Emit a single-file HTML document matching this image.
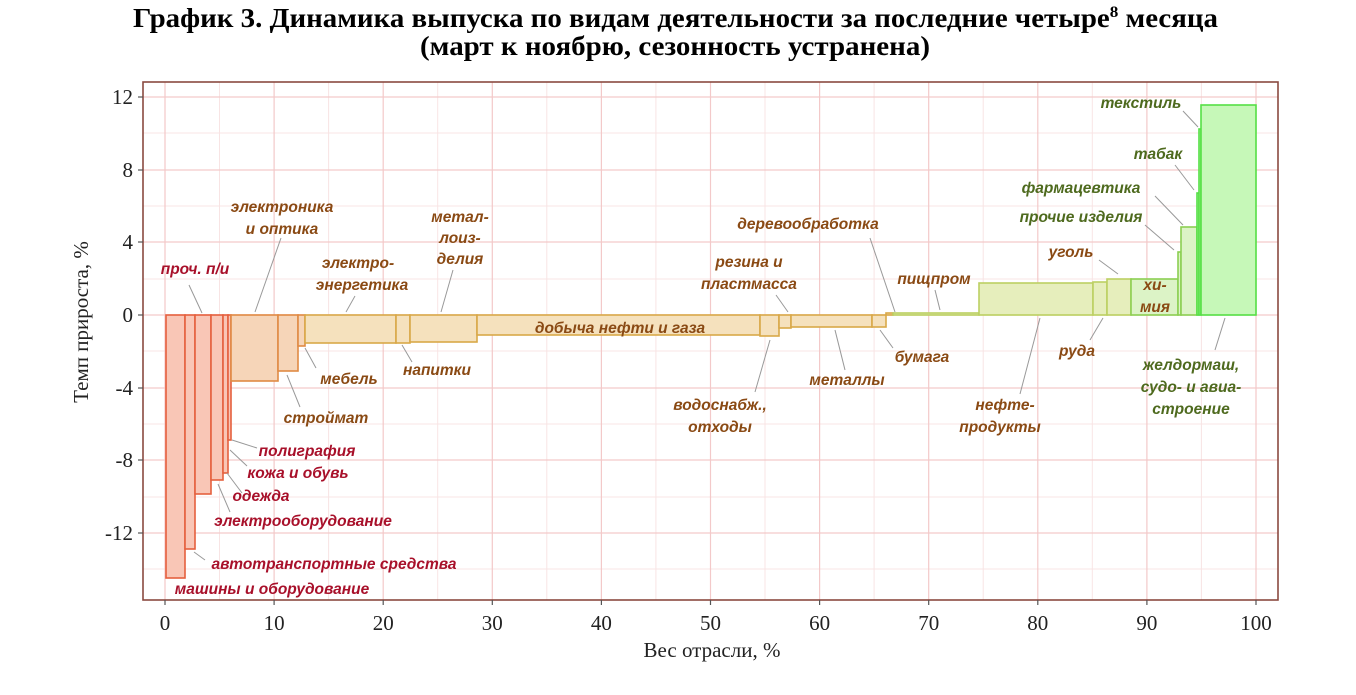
<!DOCTYPE html>
<html><head><meta charset="utf-8"><style>
html,body{margin:0;padding:0;background:#fff;}
svg{display:block;}
.t{font-family:"Liberation Serif",serif;font-weight:bold;font-size:27px;fill:#000;}
.tk{font-family:"Liberation Serif",serif;font-size:21px;fill:#222;}
.l{font-family:"Liberation Sans",sans-serif;font-weight:bold;font-style:italic;font-size:15.5px;text-anchor:middle;}
.r{fill:#a8102a}.b{fill:#8a4a14}.g{fill:#4e6a1e}
.ln{stroke:#999;stroke-width:1;fill:none}
</style></head><body>
<svg width="1356" height="695" viewBox="0 0 1356 695" xmlns="http://www.w3.org/2000/svg">
<text class="t" x="133" y="27" textLength="1085" lengthAdjust="spacingAndGlyphs">График 3. Динамика выпуска по видам деятельности за последние четыре<tspan font-size="16" dy="-10">8</tspan><tspan dy="10"> месяца</tspan></text>
<text class="t" x="420" y="55" textLength="510" lengthAdjust="spacingAndGlyphs">(март к ноябрю, сезонность устранена)</text>
<!-- grid minor -->
<g stroke="#f8e4e4" stroke-width="1">
<line x1="219.5" y1="82" x2="219.5" y2="600"/><line x1="328.6" y1="82" x2="328.6" y2="600"/><line x1="437.7" y1="82" x2="437.7" y2="600"/><line x1="546.8" y1="82" x2="546.8" y2="600"/><line x1="655.9" y1="82" x2="655.9" y2="600"/><line x1="765" y1="82" x2="765" y2="600"/><line x1="874.1" y1="82" x2="874.1" y2="600"/><line x1="983.2" y1="82" x2="983.2" y2="600"/><line x1="1092.3" y1="82" x2="1092.3" y2="600"/><line x1="1201.4" y1="82" x2="1201.4" y2="600"/>
<line x1="143" y1="133" x2="1278" y2="133"/><line x1="143" y1="206" x2="1278" y2="206"/><line x1="143" y1="279" x2="1278" y2="279"/><line x1="143" y1="351" x2="1278" y2="351"/><line x1="143" y1="424" x2="1278" y2="424"/><line x1="143" y1="497" x2="1278" y2="497"/><line x1="143" y1="569" x2="1278" y2="569"/>
</g>
<g stroke="#f3c9c9" stroke-width="1.2">
<line x1="165" y1="82" x2="165" y2="600"/><line x1="274.1" y1="82" x2="274.1" y2="600"/><line x1="383.2" y1="82" x2="383.2" y2="600"/><line x1="492.3" y1="82" x2="492.3" y2="600"/><line x1="601.4" y1="82" x2="601.4" y2="600"/><line x1="710.5" y1="82" x2="710.5" y2="600"/><line x1="819.6" y1="82" x2="819.6" y2="600"/><line x1="928.7" y1="82" x2="928.7" y2="600"/><line x1="1037.8" y1="82" x2="1037.8" y2="600"/><line x1="1146.9" y1="82" x2="1146.9" y2="600"/><line x1="1256" y1="82" x2="1256" y2="600"/>
<line x1="143" y1="97" x2="1278" y2="97"/><line x1="143" y1="170" x2="1278" y2="170"/><line x1="143" y1="242" x2="1278" y2="242"/><line x1="143" y1="315" x2="1278" y2="315"/><line x1="143" y1="388" x2="1278" y2="388"/><line x1="143" y1="460" x2="1278" y2="460"/><line x1="143" y1="533" x2="1278" y2="533"/>
</g>
<!-- bars -->
<g stroke-width="1.6">
<g fill="#f9c6b6" stroke="#e5603e">
<rect x="166" y="315" width="19" height="263"/>
<rect x="185" y="315" width="10" height="234"/>
<rect x="195" y="315" width="16" height="179"/>
<rect x="211" y="315" width="12" height="165"/>
<rect x="223" y="315" width="5" height="158"/>
<rect x="228" y="315" width="3" height="125"/>
</g>
<g fill="#f6d5b8" stroke="#e08a44">
<rect x="231" y="315" width="47" height="66"/>
<rect x="278" y="315" width="20" height="56"/>
<rect x="298" y="315" width="7" height="31"/>
</g>
<g fill="#f5e1bd" stroke="#d9a848">
<rect x="305" y="315" width="91" height="28"/>
<rect x="396" y="315" width="14" height="28"/>
<rect x="410" y="315" width="67" height="27"/>
<rect x="477" y="315" width="283" height="20"/>
<rect x="760" y="315" width="19" height="21"/>
<rect x="779" y="315" width="12" height="13"/>
<rect x="791" y="315" width="81" height="12"/>
<rect x="872" y="315" width="14" height="12"/>
<rect x="886" y="313" width="7" height="2"/>
</g>
<g fill="#e6eebc" stroke="#bcd062">
<rect x="893" y="313" width="86" height="2"/>
<rect x="979" y="283" width="114" height="32"/>
<rect x="1093" y="282" width="14" height="33"/>
<rect x="1107" y="279" width="24" height="36"/>
</g>
<g fill="#dcf3c6" stroke="#8ccf52">
<rect x="1131" y="279" width="47" height="36"/>
<rect x="1178" y="252" width="3" height="63"/>
<rect x="1181" y="227" width="16" height="88"/>
</g>
<g fill="#c6f8b8" stroke="#55e045">
<rect x="1197" y="193" width="2" height="122"/>
<rect x="1199" y="129" width="2" height="186"/>
<rect x="1201" y="105" width="55" height="210"/>
</g>
</g>
<!-- panel border -->
<rect x="143" y="82" width="1135" height="518" fill="none" stroke="#8a4a40" stroke-width="1.6"/>
<!-- ticks -->
<g stroke="#555" stroke-width="1.2">
<line x1="138" y1="97" x2="143" y2="97"/><line x1="138" y1="170" x2="143" y2="170"/><line x1="138" y1="242" x2="143" y2="242"/><line x1="138" y1="315" x2="143" y2="315"/><line x1="138" y1="388" x2="143" y2="388"/><line x1="138" y1="460" x2="143" y2="460"/><line x1="138" y1="533" x2="143" y2="533"/>
<line x1="165" y1="600" x2="165" y2="605"/><line x1="274.1" y1="600" x2="274.1" y2="605"/><line x1="383.2" y1="600" x2="383.2" y2="605"/><line x1="492.3" y1="600" x2="492.3" y2="605"/><line x1="601.4" y1="600" x2="601.4" y2="605"/><line x1="710.5" y1="600" x2="710.5" y2="605"/><line x1="819.6" y1="600" x2="819.6" y2="605"/><line x1="928.7" y1="600" x2="928.7" y2="605"/><line x1="1037.8" y1="600" x2="1037.8" y2="605"/><line x1="1146.9" y1="600" x2="1146.9" y2="605"/><line x1="1256" y1="600" x2="1256" y2="605"/>
</g>
<g class="tk" text-anchor="end">
<text x="133" y="104">12</text><text x="133" y="177">8</text><text x="133" y="249">4</text><text x="133" y="322">0</text><text x="133" y="395">-4</text><text x="133" y="467">-8</text><text x="133" y="540">-12</text>
</g>
<g class="tk" text-anchor="middle">
<text x="165" y="630">0</text><text x="274.1" y="630">10</text><text x="383.2" y="630">20</text><text x="492.3" y="630">30</text><text x="601.4" y="630">40</text><text x="710.5" y="630">50</text><text x="819.6" y="630">60</text><text x="928.7" y="630">70</text><text x="1037.8" y="630">80</text><text x="1146.9" y="630">90</text><text x="1256" y="630">100</text>
</g>
<text class="tk" x="712" y="657" text-anchor="middle">Вес отрасли, %</text>
<text class="tk" transform="translate(88,322) rotate(-90)" text-anchor="middle">Темп прироста, %</text>
<!-- leader lines -->
<g class="ln">
<line x1="281" y1="238" x2="255" y2="312"/><line x1="189" y1="285" x2="202" y2="313"/><line x1="355" y1="296" x2="346" y2="312"/><line x1="453" y1="270" x2="441" y2="312"/>
<line x1="305" y1="348" x2="316" y2="368"/><line x1="287" y1="375" x2="300" y2="407"/><line x1="402" y1="345" x2="412" y2="362"/>
<line x1="232" y1="440" x2="257" y2="448"/><line x1="230" y1="450" x2="247" y2="466"/><line x1="227" y1="473" x2="242" y2="493"/><line x1="218" y1="484" x2="230" y2="512"/><line x1="194" y1="552" x2="205" y2="560"/>
<line x1="870" y1="238" x2="895" y2="312"/><line x1="776" y1="295" x2="788" y2="312"/><line x1="935" y1="290" x2="940" y2="310"/>
<line x1="770" y1="340" x2="755" y2="392"/><line x1="835" y1="330" x2="845" y2="370"/><line x1="880" y1="330" x2="893" y2="348"/>
<line x1="1040" y1="318" x2="1020" y2="394"/><line x1="1103" y1="318" x2="1090" y2="340"/><line x1="1099" y1="260" x2="1118" y2="274"/>
<line x1="1145" y1="225" x2="1174" y2="250"/><line x1="1155" y1="196" x2="1183" y2="225"/><line x1="1175" y1="165" x2="1194" y2="190"/><line x1="1183" y1="111" x2="1198" y2="127"/><line x1="1225" y1="318" x2="1215" y2="350"/>
</g>
<!-- labels -->
<g class="l">
<text class="b" x="282" y="212">электроника</text><text class="b" x="282" y="234">и оптика</text>
<text class="r" x="195" y="274">проч. п/и</text>
<text class="b" x="358" y="268">электро-</text><text class="b" x="362" y="290">энергетика</text>
<text class="b" x="460" y="222">метал-</text><text class="b" x="460" y="243">лоиз-</text><text class="b" x="460" y="264">делия</text>
<text class="b" x="349" y="384">мебель</text>
<text class="b" x="326" y="423">строймат</text>
<text class="b" x="437" y="375">напитки</text>
<text class="r" x="307" y="456">полиграфия</text>
<text class="r" x="298" y="478">кожа и обувь</text>
<text class="r" x="261" y="501">одежда</text>
<text class="r" x="303" y="526">электрооборудование</text>
<text class="r" x="334" y="569">автотранспортные средства</text>
<text class="r" x="272" y="594">машины и оборудование</text>
<text class="b" x="620" y="333">добыча нефти и газа</text>
<text class="b" x="808" y="229">деревообработка</text>
<text class="b" x="749" y="267">резина и</text><text class="b" x="749" y="289">пластмасса</text>
<text class="b" x="934" y="284">пищпром</text>
<text class="b" x="720" y="410">водоснабж.,</text><text class="b" x="720" y="432">отходы</text>
<text class="b" x="847" y="385">металлы</text>
<text class="b" x="922" y="362">бумага</text>
<text class="b" x="1005" y="410">нефте-</text><text class="b" x="1000" y="432">продукты</text>
<text class="b" x="1077" y="356">руда</text>
<text class="b" x="1071" y="257">уголь</text>
<text class="b" x="1155" y="290">хи-</text><text class="b" x="1155" y="312">мия</text>
<text class="g" x="1081" y="222">прочие изделия</text>
<text class="g" x="1081" y="193">фармацевтика</text>
<text class="g" x="1158" y="159">табак</text>
<text class="g" x="1141" y="108">текстиль</text>
<text class="g" x="1191" y="370">желдормаш,</text><text class="g" x="1191" y="392">судо- и авиа-</text><text class="g" x="1191" y="414">строение</text>
</g>
</svg>
</body></html>
